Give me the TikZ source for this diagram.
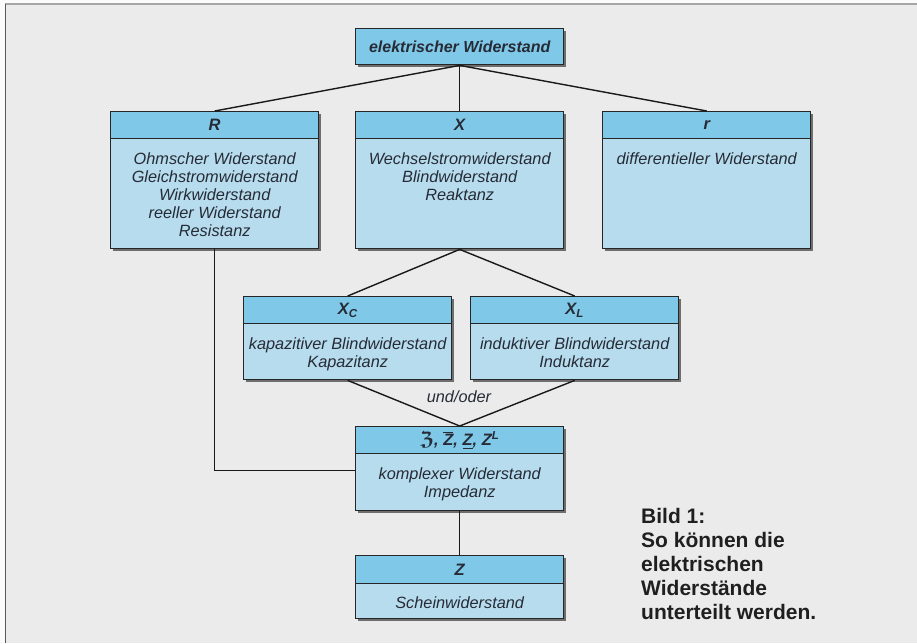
\documentclass[tikz,border=0pt]{standalone}
\usepackage{fontspec}
\setmainfont{Liberation Sans}
\usepackage{amsmath,amssymb}
\usetikzlibrary{shadows}
\definecolor{hdrblue}{HTML}{7FC8E8}
\definecolor{bodyblue}{HTML}{B6DCEE}
\definecolor{txt}{HTML}{262B36}
\definecolor{bg}{HTML}{EBEBEB}
\begin{document}
\begin{tikzpicture}[x=1pt,y=-1pt,
  boxframe/.style={draw=black!85, line width=1.4pt, fill=bodyblue, inner sep=0pt, anchor=north west,
    minimum width=208pt,
    drop shadow={shadow xshift=2.5pt, shadow yshift=-2.5pt, fill=black!65, opacity=0.85}},
  hdr/.style={draw=black!85, line width=1.4pt, fill=hdrblue, inner sep=0pt, anchor=north,
    minimum width=208pt, minimum height=27pt, text=txt,
    font=\fontsize{16.5}{18}\selectfont\bfseries\itshape},
  bodytext/.style={inner sep=0pt, anchor=north, align=center, text=txt,
    font=\fontsize{16.3}{18}\selectfont\itshape},
  conn/.style={draw=black!90, line width=1.4pt},
  caption/.style={inner sep=0pt, anchor=north west, align=left, text=black!88,
    font=\fontsize{21}{24}\selectfont\bfseries}]
\useasboundingbox (0,0) rectangle (917,643);
\fill[white!97!gray] (0,0) rectangle (917,643);
\fill[bg] (5,4) rectangle (917,643);
\draw[gray!70, line width=1.5pt] (5,4) -- (917,4);
\draw[black!65, line width=1.8pt] (5.5,4) -- (5.5,643);

% boxes
\node[boxframe, minimum height=36pt, fill=hdrblue] (top) at (355,28) {};
\node[inner sep=0pt, text=txt, font=\fontsize{16}{18}\selectfont\bfseries\itshape] (toptxt) at (top.center) {elektrischer Widerstand};

\node[boxframe, minimum height=137pt] (R) at (110,111) {};
\node[hdr] (Rh) at (R.north) {R};
\node[bodytext] (Rt) at ([yshift=-13pt]Rh.south) {Ohmscher Widerstand\\Gleichstromwiderstand\\Wirkwiderstand\\reeller Widerstand\\Resistanz};

\node[boxframe, minimum height=137pt] (X) at (355,111) {};
\node[hdr] (Xh) at (X.north) {X};
\node[bodytext] (Xt) at ([yshift=-13pt]Xh.south) {Wechselstromwiderstand\\Blindwiderstand\\Reaktanz};

\node[boxframe, minimum height=137pt] (r) at (602,111) {};
\node[hdr] (rh) at (r.north) {r};
\node[bodytext] (rt) at ([yshift=-13pt]rh.south) {differentieller Widerstand};

\node[boxframe, minimum height=83pt] (XC) at (243,296) {};
\node[hdr] (XCh) at (XC.north) {X\textsubscript{C}};
\node[bodytext] (XCt) at ([yshift=-13pt]XCh.south) {kapazitiver Blindwiderstand\\Kapazitanz};

\node[boxframe, minimum height=83pt] (XL) at (470,296) {};
\node[hdr] (XLh) at (XL.north) {X\textsubscript{L}};
\node[bodytext] (XLt) at ([yshift=-13pt]XLh.south) {induktiver Blindwiderstand\\Induktanz};

\node[boxframe, minimum height=84pt] (Zc) at (355,426) {};
\node[hdr] (Zch) at (Zc.north) {{\fontsize{20}{18}\selectfont\(\boldsymbol{\mathfrak{Z}}\)}, \(\overline{\hbox{Z}}\), \underline{Z}, Z\textsuperscript{L}};
\node[bodytext] (Zct) at ([yshift=-13pt]Zch.south) {komplexer Widerstand\\Impedanz};

\node[boxframe, minimum height=63pt] (Z) at (355,555) {};
\node[hdr, minimum height=28pt] (Zh) at (Z.north) {Z};
\node[bodytext] (Zt) at ([yshift=-12pt]Zh.south) {Scheinwiderstand};

\node[inner sep=0pt, text=txt, font=\fontsize{16.3}{18}\selectfont\itshape] (uo) at (459,397) {und/oder};

% connectors
\draw[conn] (top.south) -- (R.north);
\draw[conn] (top.south) -- (X.north);
\draw[conn] (top.south) -- (r.north);
\draw[conn] (X.south) -- (XC.north);
\draw[conn] (X.south) -- (XL.north);
\draw[conn] (XC.south) -- (Zc.north);
\draw[conn] (XL.south) -- (Zc.north);
\draw[conn] (R.south) |- ([yshift=-2pt]Zc.west);
\draw[conn] (Zc.south) -- (Z.north);

\node[caption] (cap) at (641,508) {Bild 1:\\So können die\\elektrischen\\Widerstände\\unterteilt werden.};
\end{tikzpicture}
\end{document}
